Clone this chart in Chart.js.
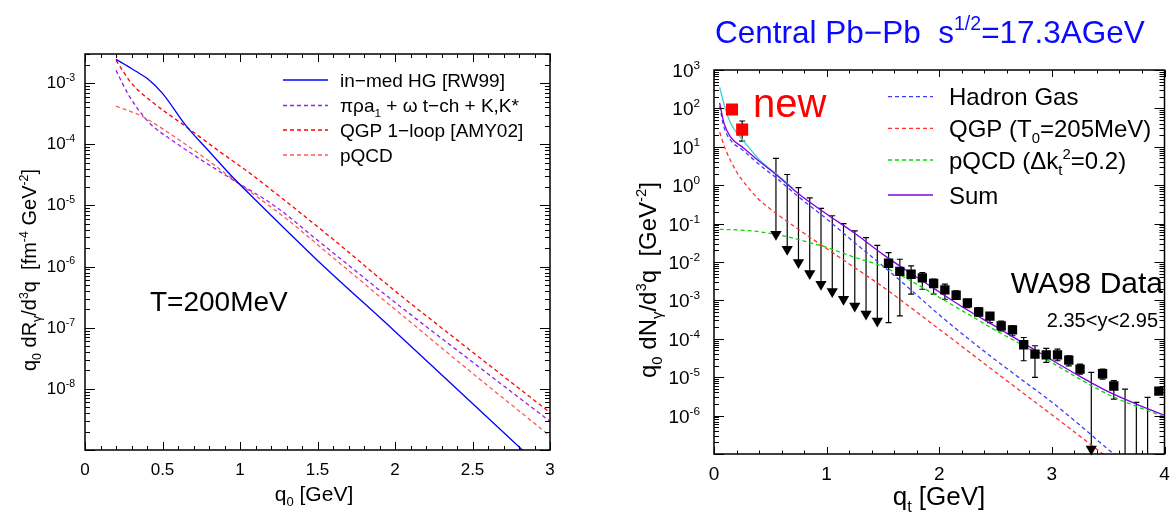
<!DOCTYPE html>
<html lang="en">
<head>
<meta charset="UTF-8">
<title>Direct photons: rates and Pb-Pb spectra</title>
<script src="https://cdn.jsdelivr.net/npm/chart.js"></script>
<style>
  body { margin: 0; background: #fff; }
  #wrap { position: relative; width: 1173px; height: 515px; overflow: hidden; }
  canvas { position: absolute; top: 0; }
  #rateChart { left: 0; }
  #spectrumChart { left: 600px; }
</style>
</head>
<body>
<div id="wrap">
  <canvas id="rateChart" width="600" height="515"></canvas>
  <canvas id="spectrumChart" width="573" height="515"></canvas>
</div>
<script>
// ---------- left panel: photon rates at T = 200 MeV ----------
const rateQ0Ticks = [0, 0.5, 1, 1.5, 2, 2.5, 3];
const rateDecades = [-8, -7, -6, -5, -4, -3];

const medHgQ0   = [0.2, 0.3, 0.344, 0.4, 0.5, 0.65, 0.8, 0.95, 1.1, 1.3, 1.5, 2.0, 2.5, 3.0];
const medHgRate = [2.45e-3, 1.74e-3, 1.48e-3, 1.20e-3, 6.8e-4, 2.04e-4, 7.7e-5, 2.95e-5, 1.23e-5, 3.9e-6, 1.26e-6, 8.7e-8, 5.75e-9, 3.8e-10];

const mesonQ0   = [0.2, 0.28, 0.376, 0.44, 0.56, 0.753, 0.946, 1.237, 1.5, 2.0, 2.5, 3.0];
const mesonRate = [1.62e-3, 6.5e-4, 2.9e-4, 1.95e-4, 1.17e-4, 5.5e-5, 2.7e-5, 9.3e-6, 2.7e-6, 2.6e-7, 2.75e-8, 2.95e-9];

const amyQ0   = [0.2, 0.3, 0.43, 0.645, 0.86, 1.075, 1.29, 1.6, 2.0, 2.5, 3.0];
const amyRate = [2.35e-3, 1.0e-3, 5.0e-4, 2.0e-4, 7.9e-5, 3.2e-5, 1.2e-5, 2.8e-6, 4.0e-7, 4.0e-8, 4.1e-9];

const pqcdQ0   = [0.2, 0.3, 0.376, 0.538, 0.753, 0.946, 1.29, 1.6, 2.0, 2.5, 3.0];
const pqcdRate = [4.2e-4, 3.4e-4, 2.8e-4, 1.55e-4, 6.5e-5, 2.8e-5, 6.3e-6, 1.4e-6, 2.0e-7, 1.8e-8, 1.7e-9];

// ---------- right panel: central Pb-Pb spectra vs WA98 ----------
const specQtTicks = [0, 1, 2, 3, 4];
const specDecades = [-6, -5, -4, -3, -2, -1, 0, 1, 2, 3];

const sumQt    = [0.05, 0.09, 0.146, 0.263, 0.41, 0.558, 0.75, 1.0, 1.25, 1.5, 1.75, 2.0, 2.25, 2.5, 2.75, 3.0, 3.25, 3.5, 3.75, 4.0];
const sumYield = [140, 40, 18.2, 9.3, 4.0, 1.82, 0.60, 0.178, 0.056, 0.0158, 5.0e-3, 1.66e-3, 5.6e-4, 2.1e-4, 7.6e-5, 2.8e-5, 1.05e-5, 4.2e-6, 2.0e-6, 1.02e-6];

const hgQt    = [0.05, 0.09, 0.146, 0.263, 0.41, 0.558, 0.75, 1.0, 1.25, 1.5, 1.75, 2.0, 2.25, 2.5, 2.75, 3.0, 3.25, 3.5, 3.65];
const hgYield = [115, 31.6, 15.1, 7.9, 3.3, 1.51, 0.50, 0.132, 0.0316, 7.9e-3, 1.86e-3, 4.2e-4, 1.05e-4, 2.8e-5, 7.9e-6, 2.24e-6, 5.6e-7, 1.32e-7, 6.0e-8];

const qgpQt    = [0.05, 0.1, 0.15, 0.2, 0.3, 0.4, 0.5, 0.6, 0.8, 1.0, 1.2, 1.5, 2.0, 2.5, 3.0, 3.5];
const qgpYield = [24, 8.9, 4.2, 2.24, 0.89, 0.42, 0.24, 0.145, 0.056, 0.0224, 8.9e-3, 2.24e-3, 1.78e-4, 1.35e-5, 1.05e-6, 7.9e-8];

const pqcdQt    = [0.05, 0.3, 0.558, 0.8, 1.0, 1.25, 1.5, 1.75, 2.0, 2.25, 2.5, 2.75, 3.0, 3.25, 3.5, 3.75, 4.0];
const pqcdYield = [0.071, 0.066, 0.052, 0.035, 0.024, 0.0132, 7.6e-3, 3.2e-3, 1.2e-3, 4.5e-4, 1.66e-4, 6.6e-5, 2.4e-5, 8.9e-6, 3.55e-6, 1.74e-6, 9.3e-7];

const hgAltQt    = [0.05, 0.1, 0.146, 0.19, 0.263, 0.41, 0.56, 0.7];
const hgAltYield = [355, 100, 42, 26, 14.1, 4.4, 1.9, 0.83];

const newQt    = [0.16, 0.25];
const newYield = [93, 28];
const newLo    = [93, 14];
const newHi    = [93, 47];

const limQt    = [0.55, 0.65, 0.75, 0.85, 0.95, 1.05, 1.15, 1.25, 1.35, 1.45, 3.35];
const limTop   = [5.0, 1.9, 0.86, 0.47, 0.25, 0.16, 0.10, 0.065, 0.043, 0.027, 1.33e-5];
const limArrow = [0.053, 0.0215, 0.0097, 5.0e-3, 2.64e-3, 1.7e-3, 1.07e-3, 7.2e-4, 4.4e-4, 2.9e-4, 1.35e-7];

const openQt  = [3.65, 3.75, 3.85];
const openTop = [4.9e-6, 2.2e-6, 3.0e-6];

const wa98Qt    = [1.55, 1.65, 1.75, 1.85, 1.95, 2.05, 2.15, 2.25, 2.35, 2.45, 2.55, 2.65, 2.75, 2.85, 2.95, 3.05, 3.15, 3.25, 3.45, 3.55, 3.95];
const wa98Yield = [9.3e-3, 5.7e-3, 4.8e-3, 3.85e-3, 2.75e-3, 1.88e-3, 1.36e-3, 8.6e-4, 5.0e-4, 3.9e-4, 2.18e-4, 1.71e-4, 7.0e-5, 4.0e-5, 3.83e-5, 3.83e-5, 2.78e-5, 1.63e-5, 1.23e-5, 5.9e-6, 4.35e-6];
const wa98Lo    = [2.65e-4, 3.96e-4, 1.45e-3, 1.95e-3, 1.45e-3, 1.07e-3, 1.07e-3, 6.5e-4, 3.96e-4, 2.65e-4, 1.6e-4, 1.2e-4, 2.68e-5, 9.9e-6, 2.42e-5, 2.68e-5, 1.98e-5, 1.2e-5, 8.9e-6, 2.7e-6, 4.35e-6];
const wa98Hi    = [0.0176, 0.0118, 7.9e-3, 5.3e-3, 3.56e-3, 2.64e-3, 1.77e-3, 1.07e-3, 6.5e-4, 4.8e-4, 2.9e-4, 2.18e-4, 1.08e-4, 6.6e-5, 5.6e-5, 5.4e-5, 3.6e-5, 2.2e-5, 1.63e-5, 8.1e-6, 4.35e-6];

const FONT = '"Liberation Sans", Arial, Helvetica, sans-serif';

function pts(xs, ys) {
  return xs.map((x, i) => ({ x: x, y: ys[i] }));
}

function curve(xs, ys, color, dash, order) {
  return {
    data: pts(xs, ys),
    borderColor: color,
    borderWidth: 1.3,
    borderDash: dash || [],
    pointRadius: 0,
    fill: false,
    cubicInterpolationMode: 'monotone',
    order: order || 0
  };
}

// text with sub/superscripts: parts = [[text, 'sub'|'sup'|undefined], ...]
function richWidth(ctx, parts, size) {
  let w = 0;
  parts.forEach(function (p) {
    ctx.font = (p[1] ? size * 0.62 : size) + 'px ' + FONT;
    w += ctx.measureText(p[0]).width;
  });
  return w;
}

function drawRich(ctx, parts, x, y, size, align, color) {
  const w = richWidth(ctx, parts, size);
  let cx = align === 'right' ? x - w : align === 'center' ? x - w / 2 : x;
  ctx.fillStyle = color || '#000';
  ctx.textBaseline = 'alphabetic';
  ctx.textAlign = 'left';
  parts.forEach(function (p) {
    const s = p[1] ? size * 0.62 : size;
    const dy = p[1] === 'sup' ? -size * 0.42 : p[1] === 'sub' ? size * 0.25 : 0;
    ctx.font = s + 'px ' + FONT;
    ctx.fillText(p[0], cx, y + dy);
    cx += ctx.measureText(p[0]).width;
  });
}

function drawRotated(ctx, parts, bx, cy, size) {
  ctx.save();
  ctx.translate(bx, cy);
  ctx.rotate(-Math.PI / 2);
  drawRich(ctx, parts, 0, 0, size, 'center');
  ctx.restore();
}

// frame with inward ticks on all four sides
function drawFrame(chart, xMinor, xMajor, xLen, yLen) {
  const ctx = chart.ctx, a = chart.chartArea;
  const xs = chart.scales.x, ys = chart.scales.y;
  ctx.save();
  ctx.strokeStyle = '#000';
  ctx.lineWidth = 1;
  ctx.beginPath();
  const n = Math.round((xs.max - xs.min) / xMinor);
  for (let i = 0; i <= n; i++) {
    const v = xs.min + i * xMinor;
    const px = Math.round(xs.getPixelForValue(v)) + 0.5;
    const major = Math.abs(v / xMajor - Math.round(v / xMajor)) < 1e-6;
    const len = major ? xLen : xLen / 2;
    ctx.moveTo(px, a.bottom); ctx.lineTo(px, a.bottom - len);
    ctx.moveTo(px, a.top); ctx.lineTo(px, a.top + len);
  }
  const d0 = Math.floor(Math.log10(ys.min)), d1 = Math.ceil(Math.log10(ys.max));
  for (let d = d0; d <= d1; d++) {
    for (let m = 1; m <= 9; m++) {
      const v = m * Math.pow(10, d);
      if (v < ys.min * 0.999 || v > ys.max * 1.001) continue;
      const py = Math.round(ys.getPixelForValue(v)) + 0.5;
      const len = m === 1 ? yLen : yLen / 2;
      ctx.moveTo(a.left, py); ctx.lineTo(a.left + len, py);
      ctx.moveTo(a.right, py); ctx.lineTo(a.right - len, py);
    }
  }
  ctx.stroke();
  ctx.lineWidth = 1.5;
  ctx.strokeRect(a.left, a.top, a.right - a.left, a.bottom - a.top);
  ctx.restore();
}

function drawLegend(ctx, items, x0, x1, tx, size) {
  items.forEach(function (it) {
    ctx.save();
    ctx.strokeStyle = it.color;
    ctx.lineWidth = 1.3;
    ctx.setLineDash(it.dash || []);
    ctx.beginPath();
    ctx.moveTo(x0, it.y); ctx.lineTo(x1, it.y);
    ctx.stroke();
    ctx.restore();
    drawRich(ctx, it.text, tx, it.y + size * 0.36, size, 'left');
  });
}

const rateDecor = {
  id: 'rateDecor',
  afterDraw(chart) {
    const ctx = chart.ctx, xs = chart.scales.x, ys = chart.scales.y;
    drawFrame(chart, 0.1, 0.5, 8, 10);
    rateQ0Ticks.forEach(function (v) {
      drawRich(ctx, [[String(v)]], xs.getPixelForValue(v), 475, 17, 'center');
    });
    rateDecades.forEach(function (d) {
      const py = ys.getPixelForValue(Math.pow(10, d));
      drawRich(ctx, [['10'], [String(d), 'sup']], 75, py + 5, 17, 'right');
    });
    drawRich(ctx, [['q'], ['0', 'sub'], [' [GeV]']], 314, 501, 21, 'center');
    drawRotated(ctx, [['q'], ['0', 'sub'], [' dR'], ['γ', 'sub'], ['/d'], ['3', 'sup'], ['q  [fm'], ['-4', 'sup'], [' GeV'], ['-2', 'sup'], [']']], 36, 270, 20);
    drawRich(ctx, [['T=200MeV']], 150, 311, 28, 'left');
    drawLegend(ctx, [
      { y: 80, color: '#0000ff', text: [['in−med HG [RW99]']] },
      { y: 105.5, color: 'rgb(150,30,240)', dash: [4, 3], text: [['πρa'], ['1', 'sub'], [' + ω t−ch + K,K*']] },
      { y: 130, color: '#ff0000', dash: [4, 3], text: [['QGP 1−loop [AMY02]']] },
      { y: 155, color: 'rgb(255,90,90)', dash: [4, 3], text: [['pQCD']] }
    ], 283, 328, 340, 19);
  }
};

new Chart(document.getElementById('rateChart'), {
  type: 'line',
  data: {
    datasets: [
      curve(medHgQ0, medHgRate, '#0000ff', []),
      curve(mesonQ0, mesonRate, 'rgb(150,30,240)', [4, 3]),
      curve(amyQ0, amyRate, '#ff0000', [4, 3]),
      curve(pqcdQ0, pqcdRate, 'rgb(255,90,90)', [4, 3])
    ]
  },
  options: {
    responsive: false,
    animation: false,
    events: [],
    layout: { padding: { left: 85, right: 50, top: 54, bottom: 65 } },
    plugins: { legend: { display: false }, tooltip: { enabled: false } },
    scales: {
      x: { type: 'linear', min: 0, max: 3, display: false },
      y: { type: 'logarithmic', min: 1e-9, max: 3e-3, display: false }
    }
  },
  plugins: [rateDecor]
});

// vertical bars for data errors and upper limits, under the markers
const wa98Bars = {
  id: 'wa98Bars',
  beforeDatasetsDraw(chart) {
    const ctx = chart.ctx, a = chart.chartArea, xs = chart.scales.x, ys = chart.scales.y;
    ctx.save();
    ctx.beginPath();
    ctx.rect(a.left, a.top, a.right - a.left, a.bottom - a.top);
    ctx.clip();
    ctx.strokeStyle = '#000';
    ctx.lineWidth = 1.2;
    function bar(q, lo, hi, capLo, capHi) {
      const px = xs.getPixelForValue(q);
      const p1 = ys.getPixelForValue(hi), p0 = lo === null ? a.bottom : ys.getPixelForValue(lo);
      ctx.beginPath();
      ctx.moveTo(px, p1); ctx.lineTo(px, p0);
      if (capHi) { ctx.moveTo(px - 3, p1); ctx.lineTo(px + 3, p1); }
      if (capLo) { ctx.moveTo(px - 3, p0); ctx.lineTo(px + 3, p0); }
      ctx.stroke();
    }
    wa98Qt.forEach(function (q, i) { bar(q, wa98Lo[i], wa98Hi[i], true, true); });
    newQt.forEach(function (q, i) { bar(q, newLo[i], newHi[i], true, true); });
    limQt.forEach(function (q, i) { bar(q, limArrow[i], limTop[i], false, true); });
    openQt.forEach(function (q, i) { bar(q, null, openTop[i], false, true); });
    ctx.restore();
  }
};

const spectrumDecor = {
  id: 'spectrumDecor',
  afterDraw(chart) {
    const ctx = chart.ctx, xs = chart.scales.x, ys = chart.scales.y;
    drawFrame(chart, 0.2, 1, 7, 10);
    specQtTicks.forEach(function (v) {
      drawRich(ctx, [[String(v)]], xs.getPixelForValue(v), 480, 19, 'center');
    });
    specDecades.forEach(function (d) {
      const py = ys.getPixelForValue(Math.pow(10, d));
      drawRich(ctx, [['10'], [String(d), 'sup']], 100, py + 7, 19, 'right');
    });
    drawRich(ctx, [['q'], ['t', 'sub'], [' [GeV]']], 339, 505, 26, 'center');
    drawRotated(ctx, [['q'], ['0', 'sub'], [' dN'], ['γ', 'sub'], ['/d'], ['3', 'sup'], ['q  [GeV'], ['-2', 'sup'], [']']], 56, 280, 24);
    drawRich(ctx, [['Central Pb−Pb  s'], ['1/2', 'sup'], ['=17.3AGeV']], 115, 43, 31.5, 'left', '#0a0aff');
    drawRich(ctx, [['new']], 153, 117, 40, 'left', '#ff0000');
    drawRich(ctx, [['WA98 Data']], 563, 293, 30, 'right');
    drawRich(ctx, [['2.35<y<2.95']], 558, 327, 20, 'right');
    drawLegend(ctx, [
      { y: 96.7, color: 'rgb(60,60,255)', dash: [4, 3], text: [['Hadron Gas']] },
      { y: 128.3, color: 'rgb(255,50,50)', dash: [4, 3], text: [['QGP (T'], ['0', 'sub'], ['=205MeV)']] },
      { y: 160, color: 'rgb(0,220,0)', dash: [4, 3], text: [['pQCD (Δk'], ['t', 'sub'], ['2', 'sup'], ['=0.2)']] },
      { y: 195, color: 'rgb(130,0,230)', text: [['Sum']] }
    ], 288, 333, 349, 24);
  }
};

new Chart(document.getElementById('spectrumChart'), {
  type: 'line',
  data: {
    datasets: [
      {
        type: 'scatter', data: pts(newQt, newYield), order: -3,
        pointStyle: 'rect', pointRadius: 8.5, backgroundColor: '#ff0000', borderColor: '#ff0000', borderWidth: 0
      },
      {
        type: 'scatter', data: pts(wa98Qt, wa98Yield), order: -2,
        pointStyle: 'rect', pointRadius: 6.6, backgroundColor: '#000', borderColor: '#000', borderWidth: 0
      },
      {
        type: 'scatter', data: pts(limQt, limArrow), order: -1, clip: false,
        pointStyle: 'triangle', rotation: 180, pointRadius: 6.5, backgroundColor: '#000', borderColor: '#000', borderWidth: 0
      },
      curve(sumQt, sumYield, 'rgb(130,0,230)', [], 1),
      curve(pqcdQt, pqcdYield, 'rgb(0,220,0)', [4, 3], 2),
      curve(qgpQt, qgpYield, 'rgb(255,50,50)', [4, 3], 3),
      curve(hgQt, hgYield, 'rgb(60,60,255)', [4, 3], 4),
      curve(hgAltQt, hgAltYield, 'rgb(60,210,210)', [], 5)
    ]
  },
  options: {
    responsive: false,
    animation: false,
    events: [],
    layout: { padding: { left: 114, right: 6, top: 70, bottom: 61 } },
    plugins: { legend: { display: false }, tooltip: { enabled: false } },
    scales: {
      x: { type: 'linear', min: 0, max: 4, display: false },
      y: { type: 'logarithmic', min: 1e-7, max: 1e3, display: false }
    }
  },
  plugins: [wa98Bars, spectrumDecor]
});
</script>
</body>
</html>
